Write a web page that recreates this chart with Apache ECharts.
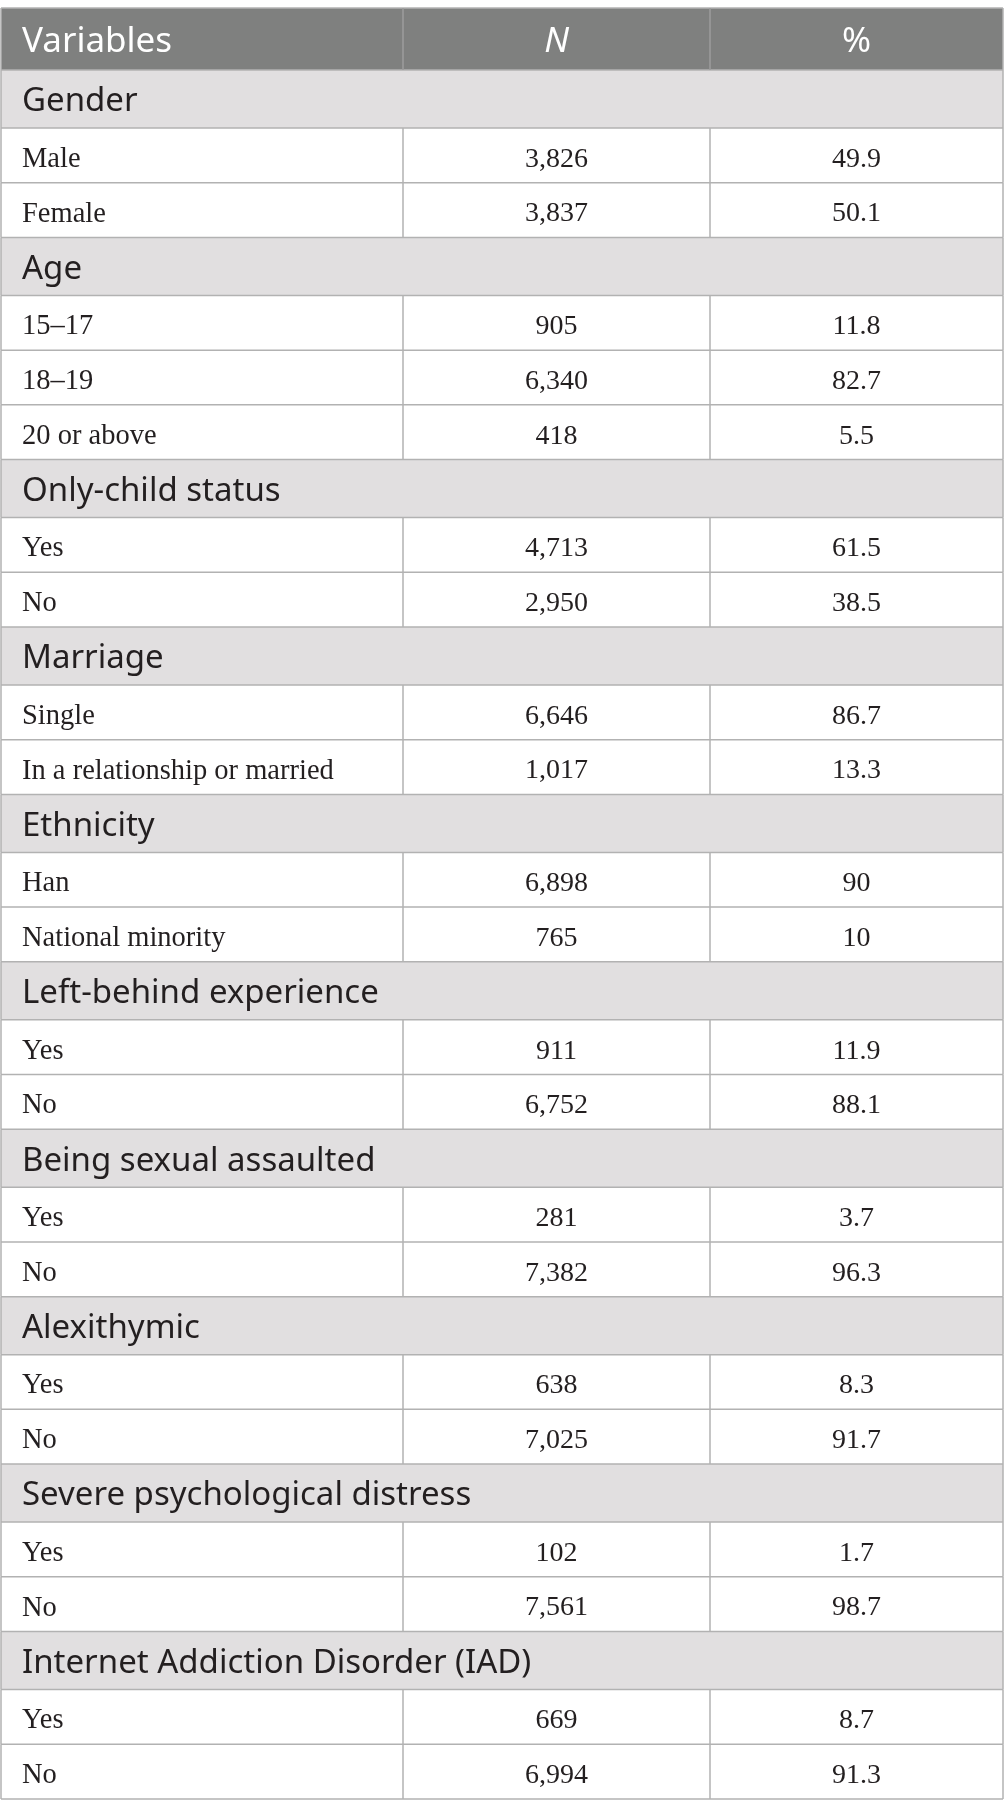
<!DOCTYPE html>
<html>
<head>
<meta charset="utf-8">
<title>Sample characteristics</title>
<script src="https://cdn.jsdelivr.net/npm/echarts@6/dist/echarts.min.js"></script>
<style>
  html, body { margin: 0; padding: 0; background: #fff; }
  #chart { width: 1005px; height: 1817px; }
</style>
</head>
<body>
<div id="chart"></div>
<script>
// table content
var headers = ['Variables', 'N', '%'];
var groups = ['Gender', 'Age', 'Only-child status', 'Marriage', 'Ethnicity',
  'Left-behind experience', 'Being sexual assaulted', 'Alexithymic',
  'Severe psychological distress', 'Internet Addiction Disorder (IAD)'];
var rowGroup = [0, 0, 1, 1, 1, 2, 2, 3, 3, 4, 4, 5, 5, 6, 6, 7, 7, 8, 8, 9, 9];
var rowLabels = ['Male', 'Female', '15\u201317', '18\u201319', '20 or above',
  'Yes', 'No', 'Single', 'In a relationship or married', 'Han', 'National minority',
  'Yes', 'No', 'Yes', 'No', 'Yes', 'No', 'Yes', 'No', 'Yes', 'No'];
var nValues = [3826, 3837, 905, 6340, 418, 4713, 2950, 6646, 1017, 6898, 765,
  911, 6752, 281, 7382, 638, 7025, 102, 7561, 669, 6994];
var pctValues = [49.9, 50.1, 11.8, 82.7, 5.5, 61.5, 38.5, 86.7, 13.3, 90, 10,
  11.9, 88.1, 3.7, 96.3, 8.3, 91.7, 1.7, 98.7, 8.7, 91.3];

// layout / style
var HEADER_H = 62, GROUP_H = 58, ROW_H = 54.71;
var COL_EDGES = [0, 402, 709, 1002];
var PAD = 21;
var HEAD_BG = '#7f807f', GROUP_BG = '#e1dfe0', LINE = '#b2b2b2', HEAD_LINE = '#9c9c9c';
var TEXT = '#231f20';
var SANS = '"Noto Sans", "Open Sans", sans-serif';
var SERIF = '"Liberation Serif", "DejaVu Serif", serif';

// flatten into table rows
var rows = [];
var y = 0;
rows.push({ kind: 'head', y0: y, y1: y + HEADER_H });
y += HEADER_H;
groups.forEach(function (g, gi) {
  rows.push({ kind: 'group', label: g, y0: y, y1: y + GROUP_H });
  y += GROUP_H;
  rowLabels.forEach(function (lab, i) {
    if (rowGroup[i] !== gi) return;
    rows.push({
      kind: 'data', label: lab,
      n: nValues[i].toLocaleString('en-US'),
      pct: String(pctValues[i]),
      y0: y, y1: y + ROW_H
    });
    y += ROW_H;
  });
});
var total = y;

function line(x1, y1, x2, y2, color) {
  return { type: 'line', z2: 10, shape: { x1: x1, y1: y1, x2: x2, y2: y2 },
    style: { stroke: color || LINE, lineWidth: 1.5 } };
}

function txt(s, x, yy, align, font, size, color, italic) {
  return { type: 'text', z2: 20, style: {
    text: s, x: x, y: yy, align: align, verticalAlign: 'middle',
    fontFamily: font, fontSize: size, fill: color, fontStyle: italic ? 'italic' : 'normal'
  } };
}

function renderItem(params, api) {
  var r = rows[api.value(2)];
  var top = api.coord([0, api.value(0)])[1];
  var bot = api.coord([0, api.value(1)])[1];
  var xs = COL_EDGES.map(function (e) { return api.coord([e, 0])[0]; });
  var mid = (top + bot) / 2;
  var kids = [];
  var bg = r.kind === 'head' ? HEAD_BG : (r.kind === 'group' ? GROUP_BG : '#fff');
  kids.push({ type: 'rect', z2: 0, shape: { x: xs[0], y: top, width: xs[3] - xs[0], height: bot - top },
    style: { fill: bg } });
  if (params.dataIndex === 0) kids.push(line(xs[0], top, xs[3], top));
  kids.push(line(xs[0], bot, xs[3], bot));
  kids.push(line(xs[0], top, xs[0], bot));
  kids.push(line(xs[3], top, xs[3], bot));
  if (r.kind === 'head') {
    kids.push(line(xs[1], top, xs[1], bot, HEAD_LINE));
    kids.push(line(xs[2], top, xs[2], bot, HEAD_LINE));
    kids.push(txt(headers[0], xs[0] + PAD, mid + 3, 'left', SANS, 35, '#fff'));
    kids.push(txt(headers[1], (xs[1] + xs[2]) / 2, mid + 3, 'center', SANS, 35, '#fff', true));
    kids.push(txt(headers[2], (xs[2] + xs[3]) / 2, mid + 3, 'center', SANS, 35, '#fff'));
  } else if (r.kind === 'group') {
    kids.push(txt(r.label, xs[0] + PAD, mid + 3, 'left', SANS, 33, TEXT));
  } else {
    kids.push(line(xs[1], top, xs[1], bot));
    kids.push(line(xs[2], top, xs[2], bot));
    kids.push(txt(r.label, xs[0] + PAD, mid + 4, 'left', SERIF, 28.5, TEXT));
    kids.push(txt(r.n, (xs[1] + xs[2]) / 2, mid + 4, 'center', SERIF, 28, TEXT));
    kids.push(txt(r.pct, (xs[2] + xs[3]) / 2, mid + 4, 'center', SERIF, 28, TEXT));
  }
  return { type: 'group', children: kids };
}

var chart = echarts.init(document.getElementById('chart'));
chart.setOption({
  animation: false,
  backgroundColor: '#fff',
  grid: { left: 1, top: 8, width: COL_EDGES[3], height: total },
  xAxis: { type: 'value', min: 0, max: COL_EDGES[3], show: false },
  yAxis: { type: 'value', min: 0, max: total, inverse: true, show: false },
  series: [{
    type: 'custom',
    renderItem: renderItem,
    clip: false,
    encode: { y: [0, 1] },
    data: rows.map(function (r, i) { return [r.y0, r.y1, i]; })
  }]
});
</script>
</body>
</html>
